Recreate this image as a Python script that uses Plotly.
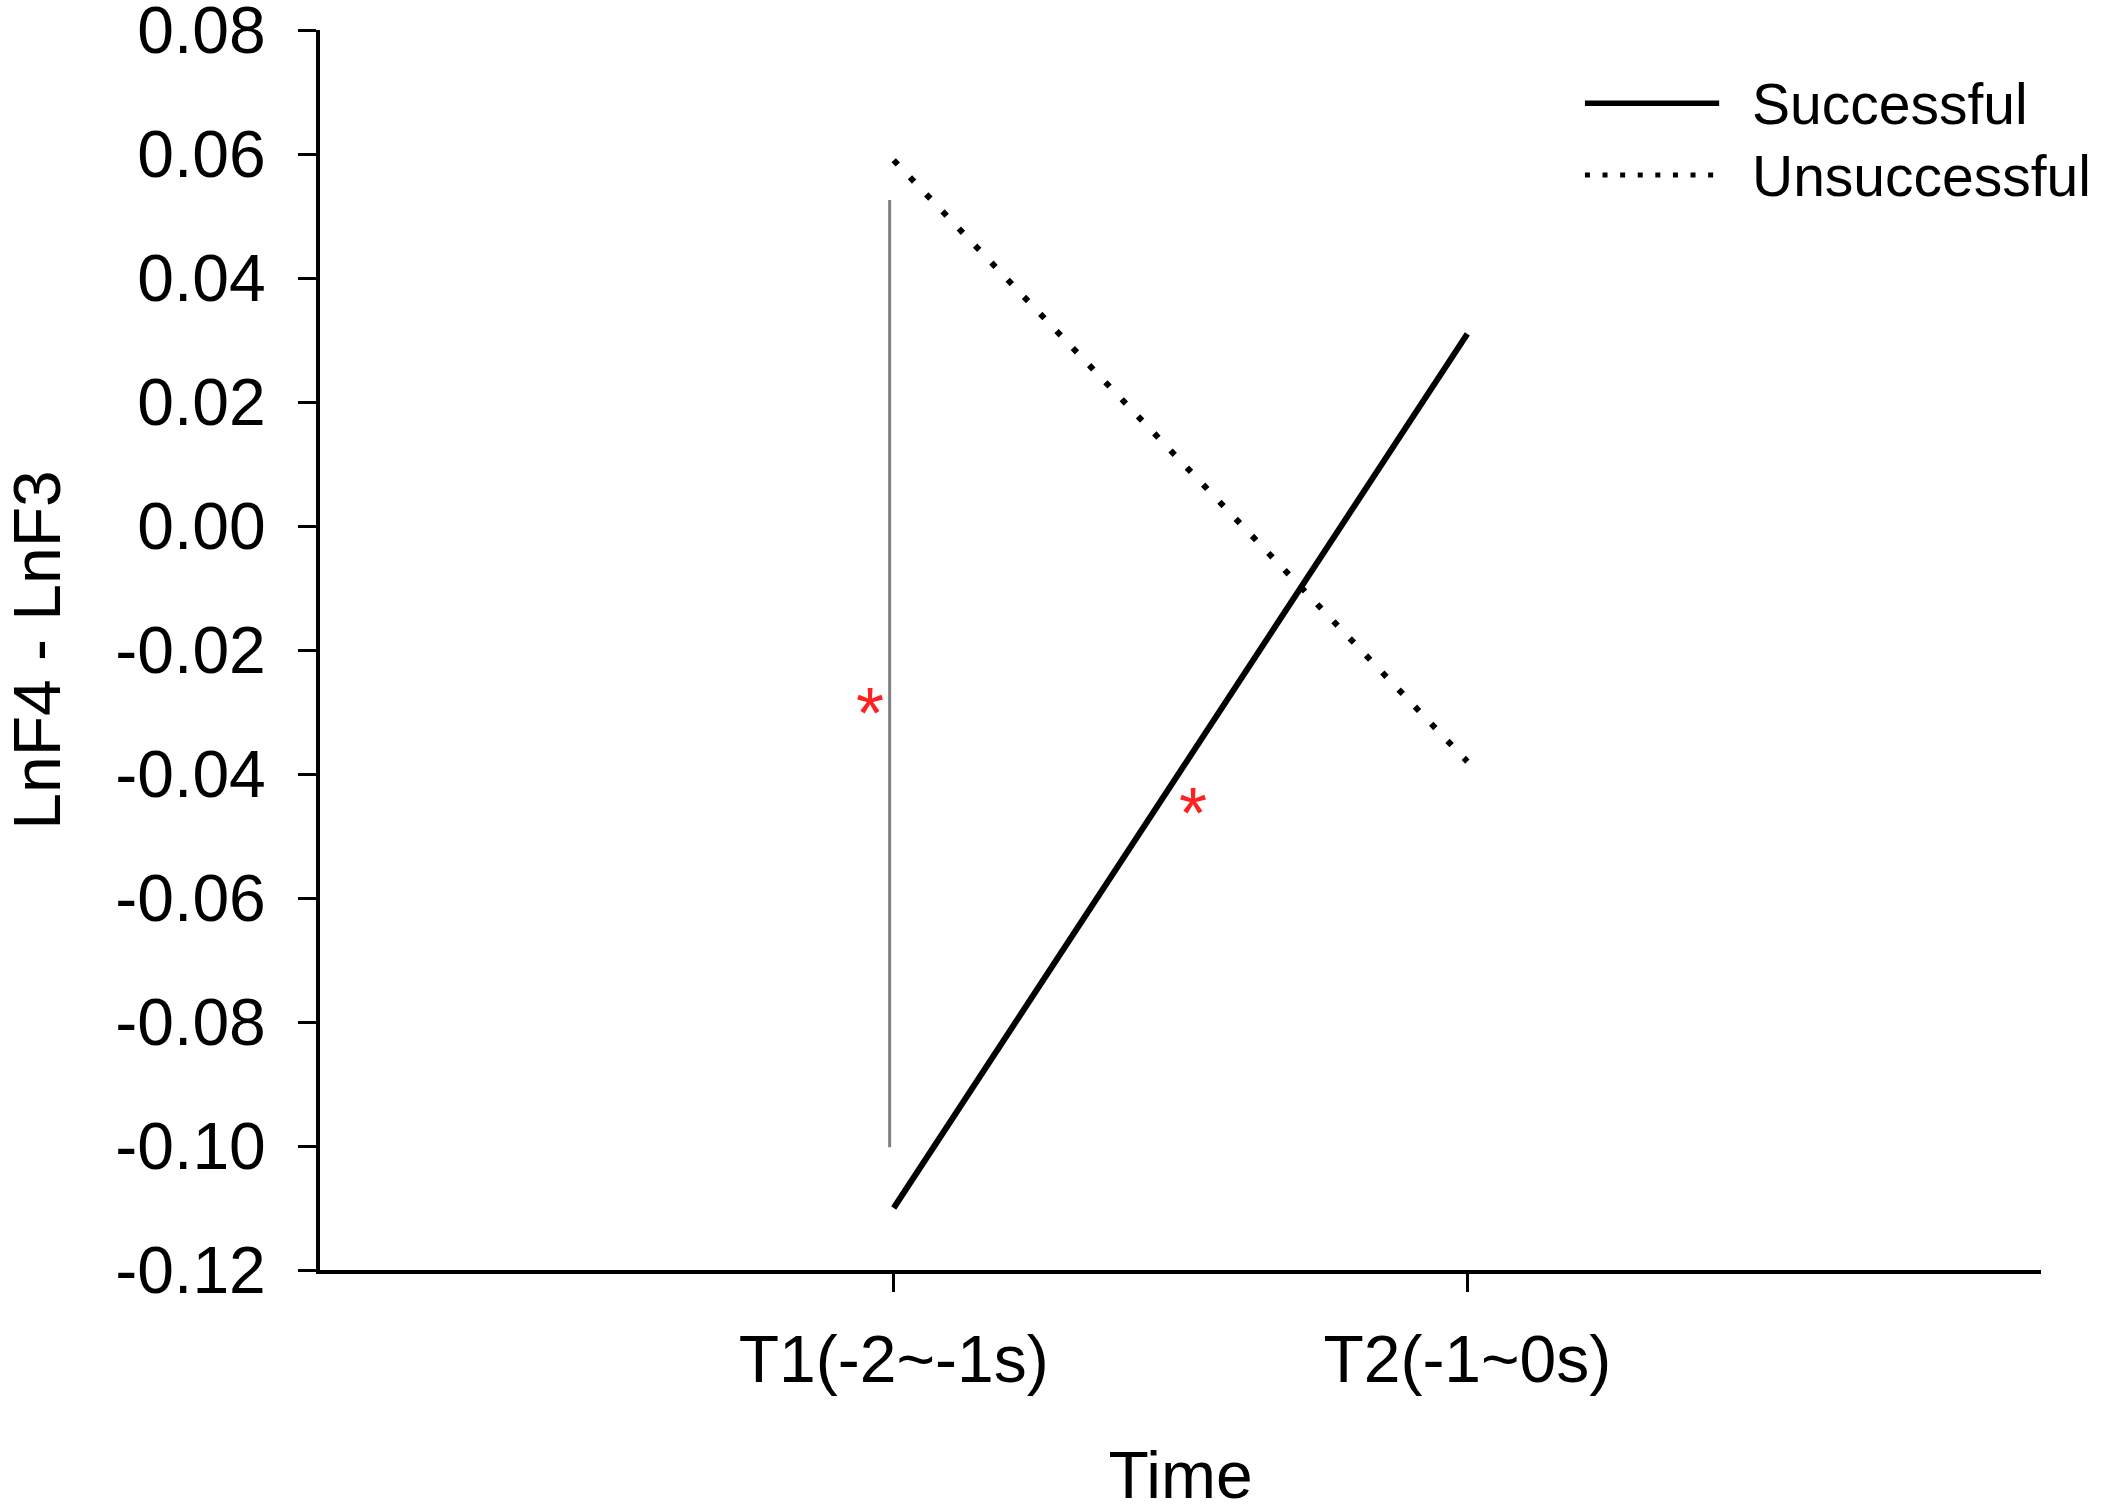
import plotly.graph_objects as go

# ---- data ----
time_labels = ["T1(-2~-1s)", "T2(-1~0s)"]
time_pos = [1, 2]
successful = [-0.110, 0.031]
unsuccessful = [0.059, -0.038]
bracket_x = [0.993, 0.993]
bracket_y = [0.0526, -0.1002]
star_x = [0.959, 1.522]
star_y = [-0.0285, -0.0447]
y_ticks = [-0.12, -0.10, -0.08, -0.06, -0.04, -0.02, 0.00, 0.02, 0.04, 0.06, 0.08]
y_tick_labels = ["-0.12", "-0.10", "-0.08", "-0.06", "-0.04", "-0.02",
                 "0.00", "0.02", "0.04", "0.06", "0.08"]
series_names = ["Successful", "Unsuccessful"]

FONT = "Arial, 'Liberation Sans', sans-serif"

fig = go.Figure()

fig.add_trace(go.Scatter(x=bracket_x, y=bracket_y, mode="lines",
                         line=dict(color="#808080", width=3),
                         showlegend=False, hoverinfo="skip"))
fig.add_trace(go.Scatter(x=time_pos, y=successful, mode="lines",
                         name=series_names[0],
                         line=dict(color="black", width=6),
                         showlegend=False))
fig.add_trace(go.Scatter(x=time_pos, y=unsuccessful, mode="lines",
                         name=series_names[1],
                         line=dict(color="black", width=6, dash="6px,17.6px"),
                         showlegend=False))

for sx, sy in zip(star_x, star_y):
    fig.add_annotation(x=sx, y=sy, xref="x", yref="y", text="*",
                       showarrow=False, yshift=-10,
                       font=dict(family=FONT, size=72, color="#ff2020"))

# custom legend (samples + labels)
fig.add_shape(type="line", xref="paper", yref="paper",
              x0=0.735, x1=0.813, y0=0.941, y1=0.941,
              line=dict(color="black", width=5.5))
fig.add_shape(type="line", xref="paper", yref="paper",
              x0=0.735, x1=0.812, y0=0.883, y1=0.883,
              line=dict(color="black", width=5, dash="5px,12.6px"))
fig.add_annotation(x=0.831, y=0.940, xref="paper", yref="paper",
                   text=series_names[0], showarrow=False,
                   xanchor="left", yanchor="middle",
                   font=dict(family=FONT, size=57, color="black"))
fig.add_annotation(x=0.831, y=0.882, xref="paper", yref="paper",
                   text=series_names[1], showarrow=False,
                   xanchor="left", yanchor="middle",
                   font=dict(family=FONT, size=57, color="black"))

axis_common = dict(showline=True, linecolor="black", linewidth=4,
                   ticks="outside", ticklen=18, tickwidth=3.3, tickcolor="black",
                   showgrid=False, zeroline=False, ticklabeloverflow="allow",
                   automargin=False,
                   tickfont=dict(family=FONT, size=66, color="black"))

fig.update_xaxes(range=[0, 3], tickmode="array", tickvals=time_pos,
                 ticktext=time_labels, ticklabelstandoff=11,
                 title=dict(text="Time", font=dict(family=FONT, size=66, color="black"),
                            standoff=60),
                 **axis_common)
fig.update_yaxes(range=[-0.12, 0.0800001], tickmode="array", tickvals=y_ticks,
                 ticktext=y_tick_labels, ticklabelstandoff=19,
                 title=dict(text="LnF4 - LnF3", font=dict(family=FONT, size=66, color="black"),
                            standoff=42),
                 **axis_common)

fig.update_layout(width=2106, height=1512, autosize=False,
                  margin=dict(l=320, r=65, t=30, b=242),
                  plot_bgcolor="white", paper_bgcolor="white",
                  font=dict(family=FONT, color="black"),
                  showlegend=False)

fig.write_html("out.html")
